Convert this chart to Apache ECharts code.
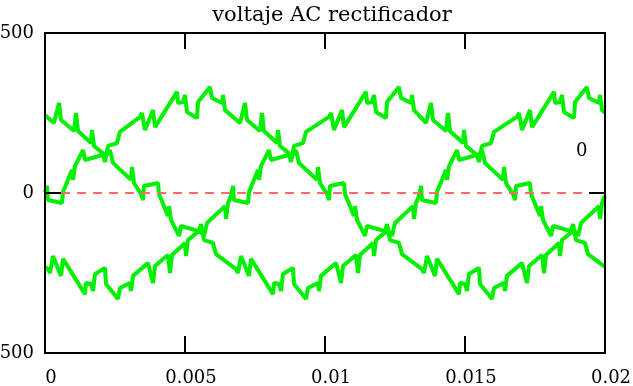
<!DOCTYPE html>
<html>
<head>
<meta charset="utf-8">
<script src="https://cdn.jsdelivr.net/npm/echarts@6/dist/echarts.min.js"></script>
<style>
html,body{margin:0;padding:0;background:#fff;}
#chart{width:633px;height:386px;}
</style>
</head>
<body>
<div id="chart"></div>
<script>
const titleText = 'voltaje AC rectificador';
const xTickLabels = ['0', '0.005', '0.01', '0.015', '0.02'];
const yTickLabels = ['-500', '0', '500'];
const markerLabel = '0';

const phaseA = [[0,243],[0.000321,219],[0.0005,281],[0.000571,228],[0.001036,194],[0.001107,250],[0.001179,194],[0.001643,156],[0.001679,197],[0.00175,147],[0.002179,116],[0.002321,134],[0.002429,94],[0.003071,41],[0.003107,81],[0.003179,31],[0.003429,-3],[0.0035,-22],[0.003536,22],[0.004036,31],[0.004071,-3],[0.004393,-72],[0.004429,-41],[0.0045,-84],[0.004786,-134],[0.004857,-103],[0.0055,-119],[0.005571,-97],[0.005679,-147],[0.006,-156],[0.006107,-191],[0.006821,-238],[0.006893,-250],[0.007,-197],[0.007286,-259],[0.007357,-206],[0.008143,-316],[0.008179,-281],[0.008357,-284],[0.008429,-306],[0.0085,-253],[0.008857,-234],[0.008893,-284],[0.009321,-331],[0.009393,-297],[0.00975,-281],[0.009786,-306],[0.009857,-259],[0.010393,-219],[0.010571,-281],[0.010643,-228],[0.011107,-194],[0.011179,-250],[0.01125,-194],[0.011714,-156],[0.01175,-197],[0.011821,-147],[0.01225,-116],[0.012393,-134],[0.0125,-94],[0.013143,-41],[0.013179,-81],[0.01325,-31],[0.013357,-9],[0.013429,22],[0.013464,-22],[0.013964,-31],[0.014,3],[0.014321,72],[0.014357,41],[0.014429,84],[0.014714,134],[0.014786,103],[0.015429,119],[0.0155,97],[0.015607,147],[0.015929,156],[0.016036,191],[0.016857,238],[0.016929,250],[0.017036,197],[0.017321,259],[0.017393,206],[0.018179,316],[0.018214,281],[0.018393,284],[0.018464,306],[0.018536,253],[0.018893,234],[0.018929,284],[0.019357,331],[0.019429,297],[0.019786,281],[0.019821,306],[0.019893,259],[0.02,251]];

const phaseB = [[0,3],[0.000071,22],[0.000107,-22],[0.000607,-31],[0.000643,3],[0.000964,72],[0.001,41],[0.001071,84],[0.001357,134],[0.001429,103],[0.002071,119],[0.002143,97],[0.00225,147],[0.002571,156],[0.002679,191],[0.003393,238],[0.003464,250],[0.003571,197],[0.003857,259],[0.003929,206],[0.004714,316],[0.00475,281],[0.004929,284],[0.005,306],[0.005071,253],[0.005429,234],[0.005464,284],[0.005893,331],[0.005964,297],[0.006321,281],[0.006357,306],[0.006429,259],[0.006964,219],[0.007143,281],[0.007214,228],[0.007679,194],[0.00775,250],[0.007821,194],[0.008286,156],[0.008321,197],[0.008393,147],[0.008821,116],[0.008964,134],[0.009071,94],[0.009714,41],[0.00975,81],[0.009821,31],[0.010071,-3],[0.010143,-22],[0.010179,22],[0.010679,31],[0.010714,-3],[0.011036,-72],[0.011071,-41],[0.011143,-84],[0.011429,-134],[0.0115,-103],[0.012143,-119],[0.012214,-97],[0.012321,-147],[0.012643,-156],[0.01275,-191],[0.013464,-238],[0.013536,-250],[0.013643,-197],[0.013929,-259],[0.014,-206],[0.014786,-316],[0.014821,-281],[0.015,-284],[0.015071,-306],[0.015143,-253],[0.0155,-234],[0.015536,-284],[0.015964,-331],[0.016036,-297],[0.016393,-281],[0.016429,-306],[0.0165,-259],[0.017036,-219],[0.017214,-281],[0.017286,-228],[0.01775,-194],[0.017821,-250],[0.017893,-194],[0.018357,-156],[0.018393,-197],[0.018464,-147],[0.018893,-116],[0.019036,-134],[0.019143,-94],[0.019786,-41],[0.019821,-81],[0.019893,-31],[0.02,-9]];

const phaseC = [[0,-231],[0.000107,-238],[0.000179,-250],[0.000286,-197],[0.000571,-259],[0.000643,-206],[0.001429,-316],[0.001464,-281],[0.001643,-284],[0.001714,-306],[0.001786,-253],[0.002143,-234],[0.002179,-284],[0.002607,-331],[0.002679,-297],[0.003036,-281],[0.003071,-306],[0.003143,-259],[0.003679,-219],[0.003857,-281],[0.003929,-228],[0.004393,-194],[0.004464,-250],[0.004536,-194],[0.005,-156],[0.005036,-197],[0.005107,-147],[0.005536,-116],[0.005679,-134],[0.005786,-94],[0.006429,-41],[0.006464,-81],[0.006536,-31],[0.006643,-9],[0.006714,22],[0.00675,-22],[0.00725,-31],[0.007286,3],[0.007607,72],[0.007643,41],[0.007714,84],[0.008,134],[0.008071,103],[0.008714,119],[0.008786,97],[0.008893,147],[0.009214,156],[0.009321,191],[0.010143,238],[0.010214,250],[0.010321,197],[0.010607,259],[0.010679,206],[0.011464,316],[0.0115,281],[0.011679,284],[0.01175,306],[0.011821,253],[0.012179,234],[0.012214,284],[0.012643,331],[0.012714,297],[0.013071,281],[0.013107,306],[0.013179,259],[0.013607,219],[0.013786,281],[0.013857,228],[0.014321,194],[0.014393,250],[0.014464,194],[0.014929,156],[0.014964,197],[0.015036,147],[0.015464,116],[0.015607,134],[0.015714,94],[0.016357,41],[0.016393,81],[0.016464,31],[0.016714,-3],[0.016786,-22],[0.016821,22],[0.017321,31],[0.017357,-3],[0.017679,-72],[0.017714,-41],[0.017786,-84],[0.018071,-134],[0.018143,-103],[0.018786,-119],[0.018857,-97],[0.018964,-147],[0.019286,-156],[0.019393,-191],[0.02,-231]];

const zeroLine = [[0,0],[0.02,0]];

const FONT = 'DejaVu Serif';
const chart = echarts.init(document.getElementById('chart'), null, {renderer:'canvas'});

function xLabel(v){ const i = Math.round(v/0.005); return xTickLabels[i] !== undefined ? xTickLabels[i] : ''; }
function yLabel(v){ const i = Math.round(v/500)+1; return yTickLabels[i] !== undefined ? yTickLabels[i] : ''; }

const axisLineStyle = {show:true, onZero:false, lineStyle:{color:'#000', width:2}};
const tickStyle = {show:true, inside:true, lineStyle:{color:'#000', width:2}};

const greenLine = (data) => ({
  type:'line', data, showSymbol:false, symbol:'none', clip:true, z:2,
  lineStyle:{color:'#00f000', width:4}, animation:false
});

chart.setOption({
  animation:false,
  backgroundColor:'#fff',
  title:{text:titleText, left:327, textAlign:'center', top:0,
    textStyle:{fontFamily:FONT, fontSize:21, fontWeight:'normal', color:'#000'}},
  grid:{left:45, right:28, top:33, bottom:33, containLabel:false, outerBoundsMode:'none'},
  xAxis:[
    {type:'value', position:'bottom', min:0, max:0.02, interval:0.005, z:5,
     axisLine:axisLineStyle, axisTick:Object.assign({length:17}, tickStyle), splitLine:{show:false},
     axisLabel:{formatter:xLabel, fontFamily:FONT, fontSize:18, color:'#000', margin:16, padding:[0,0,0,12]}},
    {type:'value', position:'top', min:0, max:0.02, interval:0.005, z:5,
     axisLine:axisLineStyle, axisTick:Object.assign({length:16}, tickStyle), splitLine:{show:false},
     axisLabel:{show:false}}
  ],
  yAxis:[
    {type:'value', position:'left', min:-500, max:500, interval:500, z:5,
     axisLine:axisLineStyle, axisTick:Object.assign({length:16}, tickStyle), splitLine:{show:false},
     axisLabel:{formatter:yLabel, fontFamily:FONT, fontSize:18, color:'#000', margin:11, padding:[6,0,0,0]}},
    {type:'value', position:'right', min:-500, max:500, interval:500, z:5,
     axisLine:axisLineStyle, axisTick:Object.assign({length:16}, tickStyle), splitLine:{show:false},
     axisLabel:{show:false}}
  ],
  graphic:[
    {type:'text', left:576, top:142, style:{text:markerLabel, font:'18px "DejaVu Serif"', fill:'#000'}}
  ],
  series:[
    greenLine(phaseA),
    greenLine(phaseB),
    greenLine(phaseC),
    {type:'line', data:zeroLine, showSymbol:false, symbol:'none', z:3,
     lineStyle:{color:'#ff6a6a', width:2, type:[9,7]}, animation:false}
  ]
});
</script>
</body>
</html>
